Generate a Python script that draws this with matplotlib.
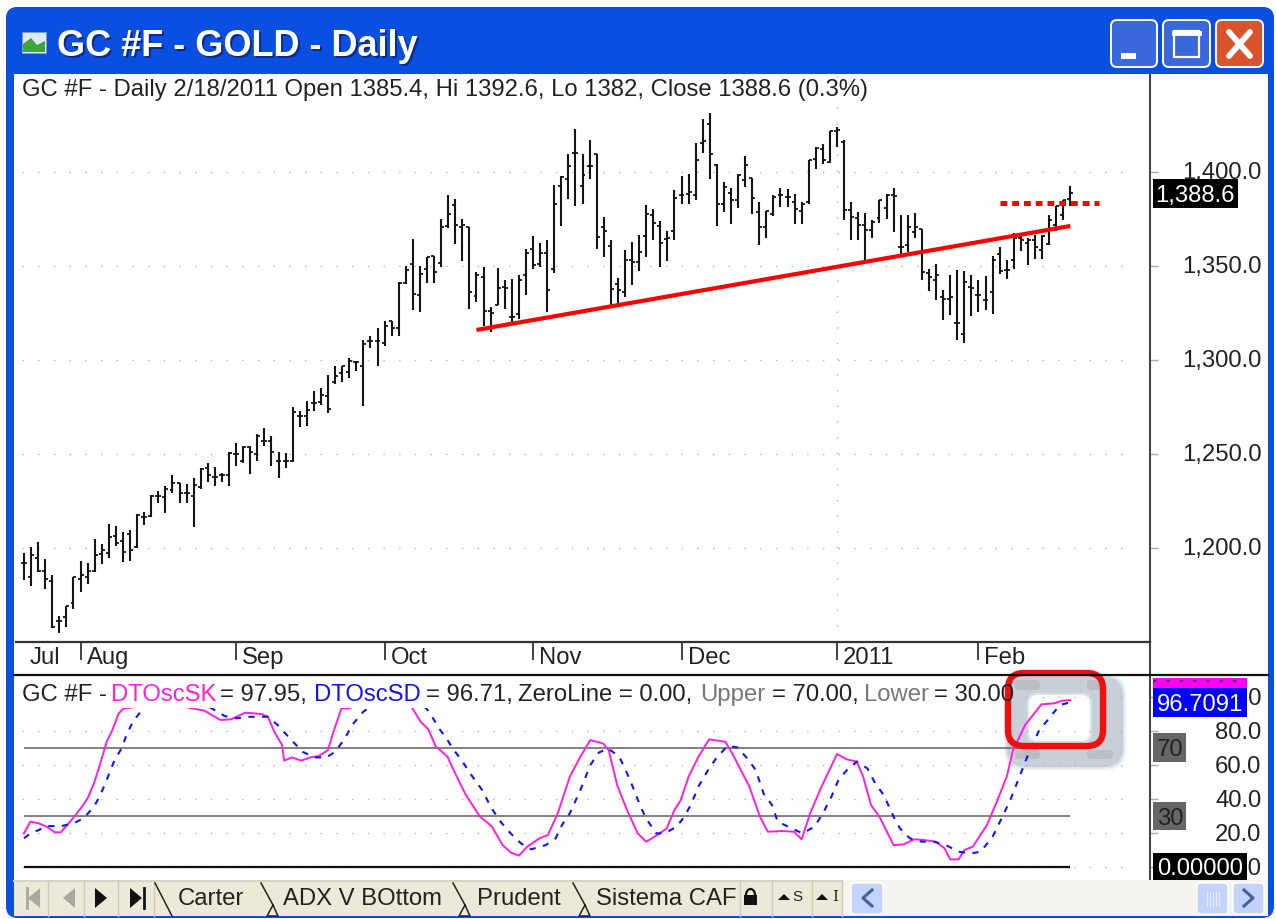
import numpy as np
import matplotlib
matplotlib.use('Agg')
import matplotlib.pyplot as plt
from matplotlib.patches import FancyBboxPatch, Rectangle, Polygon, Arc
from matplotlib.colors import LinearSegmentedColormap
from matplotlib.transforms import ScaledTranslation

plt.rcParams['font.family'] = ['Liberation Sans', 'DejaVu Sans']

# daily bars
bar_high = [1197.5, 1200.5, 1203.4, 1194.2, 1185.7, 1163.8, 1169.0, 1184.7, 1192.9, 1191.8,
            1204.7, 1202.2, 1212.9, 1211.9, 1208.5, 1209.4, 1218.0, 1218.9, 1228.4, 1230.3,
            1233.2, 1238.9, 1234.7, 1234.0, 1237.0, 1242.7, 1245.0, 1243.1, 1239.8, 1251.2,
            1255.6, 1254.1, 1254.1, 1260.7, 1264.0, 1259.8, 1251.2, 1250.3, 1275.0, 1273.1,
            1278.2, 1283.5, 1284.9, 1292.1, 1296.8, 1296.8, 1301.2, 1299.7, 1310.7, 1313.0,
            1316.8, 1321.0, 1320.6, 1341.5, 1349.8, 1364.5, 1349.8, 1354.8, 1355.1, 1375.2,
            1387.6, 1385.4, 1374.8, 1370.7, 1346.8, 1349.4, 1328.2, 1349.1, 1342.7, 1342.9,
            1345.0, 1359.2, 1365.8, 1362.2, 1363.6, 1392.9, 1397.7, 1409.4, 1423.0, 1409.7,
            1416.8, 1409.4, 1376.0, 1363.6, 1343.8, 1358.7, 1362.7, 1366.6, 1382.3, 1380.5,
            1373.9, 1368.6, 1390.6, 1397.9, 1398.7, 1415.6, 1428.3, 1431.4, 1404.1, 1394.7,
            1391.6, 1399.1, 1408.3, 1397.0, 1384.0, 1379.2, 1387.6, 1391.6, 1391.1, 1388.1,
            1384.0, 1406.2, 1413.3, 1414.7, 1421.8, 1423.9, 1416.8, 1384.0, 1378.7, 1378.2,
            1374.6, 1385.3, 1388.5, 1391.6, 1376.9, 1376.9, 1378.2, 1369.8, 1348.6, 1351.2,
            1337.4, 1345.0, 1347.7, 1347.3, 1345.0, 1342.4, 1344.5, 1355.1, 1360.1, 1353.3,
            1367.5, 1365.8, 1365.1, 1366.3, 1366.3, 1376.9, 1381.7, 1384.9, 1392.6]
bar_low = [1182.8, 1180.0, 1187.2, 1178.1, 1157.6, 1154.9, 1158.1, 1167.6, 1176.8, 1180.9,
           1187.2, 1191.4, 1194.8, 1200.9, 1192.4, 1193.3, 1199.9, 1212.3, 1216.7, 1223.7,
           1218.4, 1229.4, 1223.7, 1223.7, 1211.4, 1231.3, 1235.1, 1232.8, 1235.1, 1232.8,
           1243.6, 1245.0, 1239.3, 1246.5, 1254.5, 1243.6, 1237.4, 1242.7, 1245.5, 1264.5,
           1265.1, 1272.7, 1275.9, 1271.6, 1287.3, 1288.3, 1290.6, 1294.0, 1275.6, 1306.4,
           1296.8, 1307.3, 1313.0, 1313.0, 1340.6, 1326.4, 1325.5, 1340.9, 1340.9, 1349.4,
           1370.4, 1361.9, 1352.5, 1327.3, 1330.8, 1317.9, 1314.9, 1329.1, 1327.3, 1319.7,
           1322.0, 1334.7, 1348.6, 1349.4, 1325.5, 1346.3, 1371.1, 1385.8, 1381.7, 1382.8,
           1396.4, 1358.8, 1354.8, 1329.1, 1329.6, 1333.5, 1339.7, 1347.1, 1354.8, 1363.6,
           1349.4, 1352.5, 1363.6, 1382.8, 1383.1, 1384.9, 1410.1, 1396.4, 1371.1, 1378.7,
           1372.1, 1381.0, 1392.0, 1377.5, 1361.0, 1365.1, 1376.4, 1381.4, 1381.4, 1372.1,
           1372.1, 1382.8, 1401.8, 1404.1, 1404.8, 1413.3, 1374.3, 1364.0, 1364.0, 1353.4,
           1365.1, 1372.9, 1375.2, 1368.1, 1355.7, 1357.4, 1365.1, 1342.4, 1336.7, 1331.7,
           1321.4, 1323.7, 1310.8, 1309.0, 1323.2, 1325.5, 1326.4, 1324.6, 1345.6, 1343.2,
           1348.6, 1358.0, 1350.3, 1353.5, 1353.9, 1361.0, 1368.6, 1374.6, 1382.0]
bar_open = [1191.8, 1184.6, 1194.8, 1188.0, 1182.3, 1161.4, 1163.3, 1170.9, 1183.4, 1184.7,
            1188.0, 1196.7, 1197.1, 1206.2, 1203.7, 1207.5, 1200.5, 1216.5, 1217.0, 1227.9,
            1227.1, 1230.9, 1234.7, 1229.4, 1227.9, 1232.2, 1242.7, 1237.9, 1238.9, 1238.9,
            1249.9, 1246.1, 1253.7, 1249.9, 1256.9, 1256.9, 1246.1, 1246.5, 1246.5, 1270.2,
            1270.2, 1276.9, 1277.8, 1280.7, 1288.3, 1293.0, 1293.6, 1298.7, 1296.8, 1310.1,
            1310.1, 1309.2, 1320.6, 1316.8, 1340.9, 1350.9, 1334.4, 1348.6, 1355.1, 1351.8,
            1371.1, 1382.3, 1370.7, 1370.7, 1333.8, 1344.1, 1326.0, 1329.1, 1338.8, 1322.9,
            1324.6, 1345.0, 1359.2, 1351.2, 1356.9, 1348.6, 1392.4, 1396.4, 1410.1, 1392.4,
            1403.0, 1409.4, 1370.7, 1360.4, 1340.6, 1336.2, 1353.3, 1352.1, 1365.8, 1376.9,
            1371.1, 1364.5, 1368.6, 1387.6, 1388.5, 1387.6, 1415.6, 1425.7, 1403.5, 1382.8,
            1388.8, 1385.3, 1395.5, 1397.0, 1378.7, 1370.7, 1377.8, 1387.6, 1386.7, 1384.0,
            1379.2, 1384.0, 1407.1, 1412.4, 1405.3, 1421.8, 1415.9, 1379.6, 1375.7, 1371.6,
            1369.3, 1375.7, 1381.0, 1387.6, 1360.1, 1361.0, 1368.1, 1369.8, 1346.3, 1342.4,
            1333.5, 1332.6, 1319.7, 1314.0, 1338.8, 1334.4, 1332.1, 1336.2, 1356.2, 1347.7,
            1353.0, 1365.1, 1362.2, 1363.6, 1358.3, 1361.9, 1371.6, 1376.9, 1385.4]
bar_close = [1191.8, 1196.1, 1188.0, 1183.4, 1158.1, 1161.4, 1169.0, 1184.4, 1185.7, 1188.0,
             1196.1, 1199.0, 1205.6, 1202.8, 1198.0, 1199.0, 1217.4, 1216.5, 1227.9, 1227.9,
             1231.3, 1234.7, 1229.4, 1229.0, 1233.6, 1242.1, 1238.9, 1237.9, 1238.9, 1250.7,
             1249.9, 1253.7, 1251.2, 1259.8, 1256.9, 1251.2, 1246.1, 1246.5, 1272.1, 1270.2,
             1273.5, 1276.9, 1281.6, 1274.0, 1291.7, 1296.8, 1299.3, 1298.7, 1308.6, 1310.1,
             1310.1, 1318.3, 1316.8, 1341.1, 1347.7, 1335.3, 1345.9, 1354.8, 1346.8, 1370.7,
             1377.8, 1371.6, 1371.6, 1336.2, 1345.0, 1326.0, 1325.0, 1338.5, 1338.5, 1322.9,
             1342.7, 1356.9, 1350.3, 1356.9, 1337.4, 1383.1, 1397.3, 1403.0, 1410.1, 1398.2,
             1403.0, 1365.4, 1368.6, 1337.9, 1337.4, 1353.0, 1352.1, 1357.4, 1377.8, 1372.9,
             1362.2, 1365.1, 1386.3, 1387.6, 1389.3, 1406.2, 1416.5, 1409.4, 1382.8, 1392.0,
             1385.3, 1398.2, 1403.5, 1386.3, 1370.7, 1379.2, 1386.7, 1387.6, 1386.7, 1380.5,
             1383.1, 1406.2, 1412.9, 1406.2, 1421.6, 1422.5, 1379.6, 1376.0, 1371.6, 1369.0,
             1373.4, 1384.9, 1387.6, 1387.0, 1360.1, 1370.7, 1370.7, 1346.8, 1344.1, 1345.0,
             1332.6, 1333.5, 1319.7, 1341.5, 1338.5, 1334.4, 1332.1, 1353.3, 1347.3, 1347.7,
             1365.1, 1363.6, 1363.6, 1360.1, 1365.8, 1374.3, 1381.7, 1384.9, 1388.6]

price_ticks = [1200, 1250, 1300, 1350, 1400]
month_names = ['Jul', 'Aug', 'Sep', 'Oct', 'Nov', 'Dec', '2011', 'Feb']
month_bars = [1, 9, 31, 52, 73, 94, 116, 136]

trend_bars = [65, 149]
trend_vals = [1316, 1371.3]
level_bars = [139, 153]
level_vals = [1383.4, 1383.4]

# oscillator, read at the line's turning points (bar number, value)
sk_bars = [1, 1.9, 3.1, 4.2, 5.4, 6.2, 7.1, 8.3, 9.2, 10, 10.9, 11.8, 12.7, 13.5, 14.4, 15.1, 16.1,
           18, 20, 22, 24, 24.3, 26.5, 28.8, 30.3, 32.3, 34.6, 35.5, 36.4, 37.5, 37.8, 38.9, 40.2,
           41.5, 42.7, 44, 44.7, 45.9, 47, 49, 52, 55, 55.9, 57.1, 58.2, 59.2, 60.9, 62.1, 63.5,
           65.5, 66.4, 67.2, 68.7, 69.9, 71, 72.2, 73.9, 75.1, 76.5, 78.2, 79.7, 81.1, 82.9, 83.7,
           84.9, 86.3, 87.8, 89, 90.4, 91.9, 93, 93.9, 95, 96.4, 97.9, 100.2, 101.3, 103.6, 105.1,
           106.2, 108.2, 109.9, 111, 112.2, 113.7, 116, 117.4, 118.8, 119.7, 120.8, 122, 124,
           125.4, 126.9, 128.3, 130, 131.2, 132, 133.2, 134, 135.2, 137.2, 138.6, 140, 140.9,
           142.6, 144.9, 146.7, 147.8, 149]
sk_vals = [19.6, 26.5, 25.5, 23.5, 20.2, 20.2, 24.5, 30.4, 35.3, 40.2, 49, 60.8, 73.5, 80.4, 90.2, 93.1, 93.5,
           97, 99, 99, 97, 93.5, 91.8, 86.3, 86.7, 90.6, 89.8, 88.2, 79.4, 71.6, 62.4, 64.3, 62.4,
           64.3, 65.1, 68.6, 78.4, 93.1, 93.1, 98, 99, 99, 93.5, 85.3, 80.8, 71, 64.7, 53.9, 42.2,
           29.4, 26.5, 23.5, 12.7, 8.2, 6.5, 11.8, 16.7, 18.6, 31.4, 52.9, 64.7, 74.5, 72.5, 68.6,
           48, 33.3, 19.6, 14.7, 18.2, 22.5, 33.3, 39.2, 52.9, 64.7, 74.9, 73.5, 65.7, 47.1, 29.4,
           20.6, 21, 20.6, 16.1, 31.4, 46.1, 66.3, 63.1, 61.8, 52.9, 36.3, 29.4, 12.7,
           13.1, 16.1, 15.7, 14.7, 10.8, 4.3, 4.3, 9.8, 11.8, 24.5, 38.2, 52.9, 68.6,
           83.3, 95.5, 96.1, 97.6, 97.95]
sd_bars = [1, 1.9, 3.1, 4.2, 6.3, 8, 9.4, 10.9, 11.8, 12.6, 13.8, 14.8, 15.5, 16.4, 17.5, 18.4,
           20, 23, 27.4, 29.4, 31.1, 32.9, 35.5, 36.9, 38.6, 40.4, 42.1, 43.8, 45, 46.4, 47.4, 49,
           51, 54, 57, 58.3, 59.7, 60.9, 61.8, 62.9, 64.1, 65.8, 67, 68.4, 69.6, 71.3, 72.7, 74.8,
           76.2, 77.1, 78.2, 79.7, 81.1, 82.3, 83.6, 85.2, 86.3, 87.5, 88.1, 89, 90.4, 91.6, 93.3,
           94.4, 95.3, 96.5, 97.9, 99, 100.5, 101.9, 103.3, 104.5, 105.6, 106.8, 107.6, 109.1,
           111.1, 112.8, 114, 115.1, 116.2, 117.4, 118.8, 120.3, 121.4, 122.6, 124, 124.9, 126.3,
           128, 129.7, 131.4, 133.2, 134.9, 136.3, 138, 139.5, 140.6, 141.8, 142.9, 144.6, 145.8,
           147.5, 149]
sd_vals = [16.7, 19.6, 21.6, 23.9, 23.9, 25.5, 28.4, 35.3, 42.2, 50, 62.7, 69.6, 77.5, 85.3, 91.2, 96,
           98, 99, 93.5, 88.6, 87.3, 88.2, 88.2, 83.3, 75.5, 67.6, 64.3, 64.3, 67.6, 75.5, 83.3, 91.2,
           97, 99, 97, 91.2, 81.4, 74.5, 68.6, 62.7, 54.9, 45.1, 35.3, 26.5, 20.6, 13.7, 10.2, 12.7,
           16.7, 24.5, 31.4, 45.1, 59.8, 67.1, 69.6, 64.7, 54.9, 43.1, 36.3, 28.4, 19.6, 19.6, 23.5,
           29.4, 36.3, 48, 57.8, 64.3, 71, 70.2, 63.7, 56.9, 43.1, 36.3, 26.5, 23.5,
           19.6, 23.5, 31.4, 40.2, 51, 56.9, 61.8, 57.8, 49, 42.2, 29.4, 22.5, 16.7,
           14.7, 14.7, 12.7, 8.8, 7.8, 8.8, 17.6, 30.4, 40.2, 52.9, 64.7, 80.4, 86.3,
           95.1, 96.71]
osc_ticks = [0, 20, 40, 60, 80, 100]
guide_vals = [70, 30]

W, H = 1276, 919
FS = 17.2
DOTS = (0, (1, 10.3))


def bar_at(px):
    return 1 + (px - 24) / 7.07


def pane(left, top, right, bottom):
    return fig.add_axes([left / W, 1 - bottom / H, (right - left) / W, (bottom - top) / H])


def box(ax, x0, y0, x1, y1, r=3, **kw):
    p = FancyBboxPatch((x0 + r, y0 + r), x1 - x0 - 2 * r, y1 - y0 - 2 * r,
                       boxstyle='round,pad=%g,rounding_size=%g' % (r, r), **kw)
    ax.add_patch(p)
    return p


def right_scale(a, ticks, labels, lift):
    # scale labels sit right aligned against the window edge
    a.set_xticks([])
    a.yaxis.tick_right()
    a.set_yticks(ticks)
    a.set_yticklabels(labels, ha='right', fontsize=FS, color='#222222')
    a.tick_params(axis='y', length=5.8, width=1, color='#aaaaaa', pad=74.5)
    up = ScaledTranslation(0, lift / 72, fig.dpi_scale_trans)
    for t in a.get_yticklabels():
        t.set_transform(t.get_transform() + up)
    for s in ['top', 'left', 'bottom']:
        a.spines[s].set_visible(False)
    a.spines['right'].set_color('#444444')
    a.spines['right'].set_linewidth(1.5)


fig = plt.figure(figsize=(W / 100, H / 100), dpi=100, facecolor='white')

# window frame behind everything
bg = fig.add_axes([0, 0, 1, 1], zorder=0)
bg.set_xlim(0, W)
bg.set_ylim(H, 0)
bg.axis('off')
box(bg, 6, 7, 1274, 918, r=12, facecolor='#0a4fe0', edgecolor='none')
shade = np.array([0.0, 0.06, 0.16, 0.5, 0.85, 1.0]).reshape(-1, 1)
cmap = LinearSegmentedColormap.from_list('xp', ['#2a7cf4', '#0a5ae8', '#0550df', '#0a3fc4'])
clip = box(bg, 6, 7, 1274, 100, r=12, facecolor='none', edgecolor='none')
img = bg.imshow(shade, extent=(6, 1274, 74, 7), aspect='auto', cmap=cmap, interpolation='bicubic')
img.set_clip_path(clip)
bg.set_xlim(0, W)
bg.set_ylim(H, 0)
bg.add_patch(Rectangle((14, 74), 1254, 806, facecolor='white', edgecolor='none'))

# soft grey highlight around the last oscillator values
for grow, al in [(3, 0.25), (1.5, 0.45), (0, 1)]:
    box(bg, 1007 - grow, 677 - grow, 1123 + grow, 767 + grow, r=20, facecolor='#c7d0d9', edgecolor='none', alpha=al)
for x0, y0, x1, y1 in [(1015, 680, 1040, 690), (1087, 680, 1104, 690), (1015, 750, 1040, 759), (1087, 750, 1113, 759)]:
    box(bg, x0, y0, x1, y1, r=4, facecolor='#babdc1', edgecolor='none')
for grow, al in [(2, 0.4), (0, 1)]:
    box(bg, 1029 - grow, 695 - grow, 1090 + grow, 741 + grow, r=9, facecolor='#fcfdfd', edgecolor='none', alpha=al)

# price pane
ax = pane(16, 75, 1150, 642)
ax.set_zorder(2)
ax.patch.set_visible(False)
ax.set_xlim(bar_at(16), bar_at(1150))
ax.set_ylim(1400 - (642 - 172) / 1.88, 1400 + (172 - 75) / 1.88)

bars = np.arange(1, len(bar_high) + 1)
ax.hlines(price_ticks, bar_at(22), bar_at(1135), colors='#b4b4b4', linewidth=1, linestyles=[DOTS])
ax.axvline(month_bars[6], color='#b4b4b4', linewidth=1, linestyle=DOTS)
ax.vlines(bars, bar_low, bar_high, colors='#151515', linewidth=1.5)
ax.hlines(bar_open, bars - 0.42, bars, colors='#151515', linewidth=1.3)
ax.hlines(bar_close, bars, bars + 0.42, colors='#151515', linewidth=1.3)
ax.plot(trend_bars, trend_vals, color='#ff0000', linewidth=3.0, solid_capstyle='butt')
ax.plot(level_bars, level_vals, color='#ff0000', linewidth=3.6, linestyle=(0, (1.35, 1.0)))
right_scale(ax, price_ticks, ['{:,.1f}'.format(v) for v in price_ticks], 1)

# date band
ax_d = pane(16, 642, 1150, 675)
ax_d.set_zorder(2)
ax_d.patch.set_visible(False)
ax_d.set_xlim(ax.get_xlim())
ax_d.set_ylim(0, 1)
ax_d.set_yticks([])
ax_d.xaxis.tick_top()
ax_d.set_xticks(month_bars[1:])
ax_d.set_xticklabels([])
ax_d.tick_params(axis='x', direction='in', length=13, width=1.2, color='#222222')
for s in ['left', 'bottom']:
    ax_d.spines[s].set_visible(False)
ax_d.spines['top'].set_color('#333333')
ax_d.spines['top'].set_linewidth(1.6)
ax_d.spines['right'].set_color('#444444')
ax_d.spines['right'].set_linewidth(1.5)
for name, b in zip(month_names, month_bars):
    ax_d.text(b + 0.85, 0.52, name, fontsize=FS, va='center', ha='left', color='#222222')

# oscillator pane
ax2 = pane(16, 675, 1150, 880)
ax2.set_zorder(2)
ax2.patch.set_visible(False)
ax2.set_xlim(ax.get_xlim())
ax2.set_ylim((866.7 - 880) / 1.7, (866.7 - 675) / 1.7)
ax2.hlines(osc_ticks, bar_at(22), bar_at(1135), colors='#b4b4b4', linewidth=1, linestyles=[DOTS])
ax2.hlines(guide_vals, bars[0], bars[-1], colors='#777777', linewidth=1.3)
ax2.hlines(0, bars[0], bars[-1], colors='#111111', linewidth=1.6)
ax2.plot(sk_bars, sk_vals, color='#ff1fe0', linewidth=1.4)
ax2.plot(sd_bars, sd_vals, color='#1414f0', linewidth=1.5, linestyle=(0, (3.0, 3.6)))
right_scale(ax2, osc_ticks, ['{:.1f}'.format(v) for v in osc_ticks], 0)

# everything on top: header texts, value boxes, tabs, window title
fr = fig.add_axes([0, 0, 1, 1], zorder=5)
fr.set_xlim(0, W)
fr.set_ylim(H, 0)
fr.axis('off')

fr.plot([14, 1268], [675, 675], color='#111111', linewidth=1.6)

fr.text(22, 90, 'GC #F - Daily 2/18/2011 Open 1385.4, Hi 1392.6, Lo 1382, Close 1388.6 (0.3%)',
        fontsize=FS, va='center', color='#222222')

fr.add_patch(Rectangle((16, 677), 990, 30.5, facecolor='white', edgecolor='none'))
header = [(22, 'GC #F -', '#222222'), (111, 'DTOscSK', '#ff1fe0'), (220, '= 97.95,', '#222222'),
          (314, 'DTOscSD', '#1414f0'), (426, '= 96.71,', '#222222'), (518, 'ZeroLine = 0.00,', '#222222'),
          (700, 'Upper', '#777777'), (772, '= 70.00,', '#222222'), (864, 'Lower', '#777777'),
          (934, '= 30.00', '#222222')]
for hx, htxt, hc in header:
    fr.text(hx, 695, htxt, fontsize=FS, va='center', color=hc)

box(fr, 1008, 673, 1103, 746, r=16, facecolor='none', edgecolor='#f01010', linewidth=4.6)

# value boxes on the right scale
fr.add_patch(Rectangle((1153, 179), 85, 29, facecolor='black'))
fr.text(1195, 196, '1,388.6', color='white', fontsize=FS, ha='center', va='center')
fr.add_patch(Rectangle((1153, 678), 94, 10, facecolor='#ff00ff'))
fr.plot([1153, 1247], [681, 681], color='#333333', linewidth=1.2, linestyle=(0, (2, 6)))
fr.add_patch(Rectangle((1153, 688), 94, 29, facecolor='#0000ff'))
fr.text(1200, 705, '96.7091', color='white', fontsize=FS, ha='center', va='center')
fr.add_patch(Rectangle((1153, 733), 33, 29, facecolor='#666666'))
fr.text(1170, 750, '70', color='#222222', fontsize=FS, ha='center', va='center')
fr.add_patch(Rectangle((1153, 802), 33, 28, facecolor='#666666'))
fr.text(1170, 819, '30', color='#222222', fontsize=FS, ha='center', va='center')
fr.add_patch(Rectangle((1153, 853), 94, 27, facecolor='black'))
fr.text(1200, 869, '0.00000', color='white', fontsize=FS, ha='center', va='center')

# tab strip
fr.add_patch(Rectangle((14, 880), 1254, 36, facecolor='#f5f4ee', edgecolor='none'))
fr.add_patch(Rectangle((14, 880), 828, 36, facecolor='#ece9d8', edgecolor='none'))
fr.plot([14, 842], [881, 881], color='#d8d4c4', linewidth=1.5)
for sx in [48, 84, 118, 154, 740, 772, 812, 842]:
    fr.plot([sx, sx], [881, 916], color='#cfcbb8', linewidth=1)
for nx, tip, nc in [(34, -6, '#aaa89c'), (69, -6, '#aaa89c'), (101, 6, '#111111'), (136, 6, '#111111')]:
    fr.add_patch(Polygon([(nx - tip, 888), (nx - tip, 908), (nx + tip, 898)], closed=True, facecolor=nc, edgecolor='none'))
fr.plot([26.5, 26.5], [888, 908], color='#aaa89c', linewidth=2)
fr.plot([144, 144], [888, 908], color='#111111', linewidth=2)
for tx, tab in [(178, 'Carter'), (283, 'ADX V BOttom'), (477, 'Prudent'), (596, 'Sistema CAF')]:
    fr.text(tx, 899, tab, fontsize=FS, va='center', color='#222222')
fr.plot([155, 172], [883, 916], color='#222222', linewidth=1.1)
for sx in [261, 453, 573]:
    fr.plot([sx, sx + 12], [883, 905], color='#222222', linewidth=1.1)
    fr.plot([sx + 12, sx + 17, sx + 6, sx + 12], [905, 916, 916, 905], color='#222222', linewidth=1.1)
fr.add_patch(Rectangle((744, 895), 13, 10, facecolor='#111111'))
fr.add_patch(Arc((750.5, 895), 9, 12, theta1=180, theta2=360, color='#111111', linewidth=1.6))
fr.add_patch(Polygon([(778, 900), (790, 900), (784, 894)], closed=True, facecolor='#111111'))
fr.text(797, 897, 'S', fontsize=11, ha='center', va='center', color='#222222')
fr.add_patch(Polygon([(816, 900), (828, 900), (822, 894)], closed=True, facecolor='#111111'))
fr.text(835, 897, 'I', fontsize=11, ha='center', va='center', color='#222222', family='DejaVu Serif')
for bx0, bx1 in [(851, 883), (1197, 1228), (1233, 1264)]:
    box(fr, bx0, 883, bx1, 914, r=4, facecolor='#c3d3fa', edgecolor='white', linewidth=1)
fr.plot([872, 863, 872], [890, 898, 906], color='#41609c', linewidth=2.2)
fr.plot([1244, 1253, 1244], [890, 898, 906], color='#41609c', linewidth=2.2)
for gx in [1207, 1210, 1213, 1216, 1219]:
    fr.plot([gx, gx], [892, 906], color='#e8effc', linewidth=0.8)

# title bar
fr.text(59, 49, 'GC #F - GOLD - Daily', fontsize=26, fontweight='bold', color='#0a2a90', va='center')
fr.text(57, 47, 'GC #F - GOLD - Daily', fontsize=26, fontweight='bold', color='white', va='center')
fr.add_patch(Rectangle((22, 32), 24, 21, facecolor='#dfe9f5', edgecolor='#7f9fc0', linewidth=0.6))
fr.add_patch(Polygon([(23, 52), (23, 44), (31, 38), (37, 45), (45, 41), (45, 52)], closed=True, facecolor='#3fa53a', edgecolor='none'))

for bx0, bx1, col in [(1111, 1157, '#3a67dc'), (1163, 1210, '#3a67dc'), (1216, 1263, '#d9532c')]:
    box(fr, bx0, 20, bx1, 67, r=6, facecolor=col, edgecolor='white', linewidth=1.4)
fr.add_patch(Rectangle((1121, 53), 15, 6, facecolor='white'))
fr.add_patch(Rectangle((1174, 31), 25, 26, facecolor='none', edgecolor='white', linewidth=1.6))
fr.plot([1174, 1199], [33, 33], color='white', linewidth=3.5)
fr.plot([1229, 1250], [32, 56], color='white', linewidth=4.2, solid_capstyle='round')
fr.plot([1250, 1229], [32, 56], color='white', linewidth=4.2, solid_capstyle='round')

fig.savefig('out.png', dpi=100)
